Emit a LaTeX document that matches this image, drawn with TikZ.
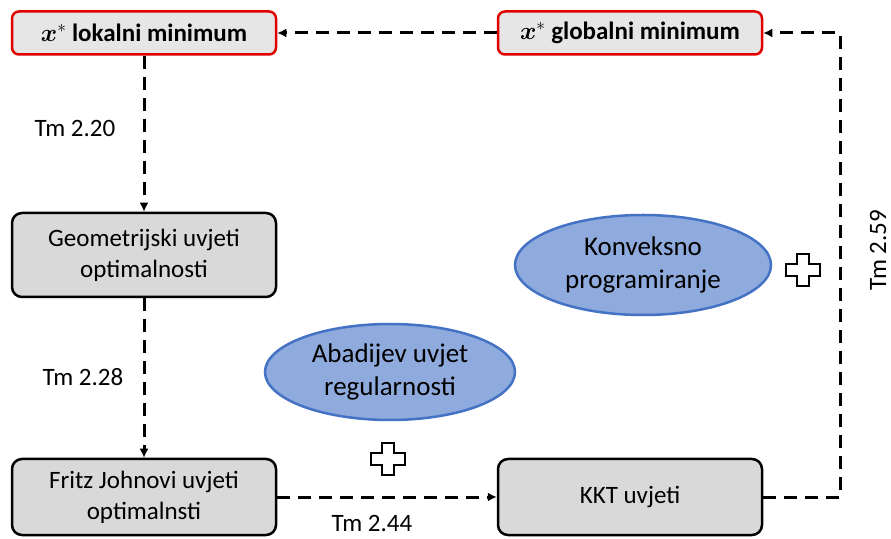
\documentclass[tikz,border=0pt]{standalone}
\usepackage{fontspec}
\setmainfont{Carlito}
\usepackage{amsmath}
\usetikzlibrary{shapes.geometric,arrows.meta}

\definecolor{boxgrey}{HTML}{D9D9D9}
\definecolor{topgrey}{HTML}{E7E6E6}
\definecolor{ellfill}{HTML}{8FAADC}
\definecolor{elldraw}{HTML}{4472C4}
\definecolor{topred}{HTML}{E00000}

\newcommand{\pluscross}[1]{\draw[line width=2pt, fill=white, shift={#1}]
  (-6,-16) -- (6,-16) -- (6,-6) -- (17,-6) -- (17,6) -- (6,6) -- (6,16)
  -- (-6,16) -- (-6,6) -- (-17,6) -- (-17,-6) -- (-6,-6) -- cycle;}

\begin{document}
\begin{tikzpicture}[x=1pt,y=1pt,
    cond/.style={draw=black, line width=2.5pt, rounded corners=10pt, fill=boxgrey,
      minimum width=264pt, align=center, font=\fontsize{25}{31}\selectfont},
    minbox/.style={draw=topred, line width=2.5pt, rounded corners=7pt, fill=topgrey,
      minimum width=264pt, minimum height=43pt, font=\fontsize{25}{28}\selectfont\bfseries},
    ell/.style={ellipse, draw=elldraw, line width=2.5pt, fill=ellfill, align=center,
      inner sep=0pt, font=\fontsize{27}{33}\selectfont},
    impl/.style={dash pattern=on 13pt off 8pt, line width=3pt,
      -{Latex[length=9pt,width=9pt]}},
    tm/.style={font=\fontsize{25}{28}\selectfont}]
  \useasboundingbox (0,0) rectangle (891,538);

  % boxes
  \node[minbox] (loc) at (144,505) {$\boldsymbol{x}^{*}$ lokalni minimum};
  \node[minbox] (glob) at (630,505) {$\boldsymbol{x}^{*}$ globalni minimum};
  \node[cond, minimum height=84pt] (geo) at (144,283) {Geometrijski uvjeti\\optimalnosti};
  \node[cond, minimum height=76pt] (fj) at (144,41) {Fritz Johnovi uvjeti\\optimalnsti};
  \node[cond, minimum height=76pt] (kkt) at (630,41) {KKT uvjeti};

  % extra conditions
  \node[ell, minimum width=256pt, minimum height=100pt] (konv) at (643,273) {Konveksno\\programiranje};
  \node[ell, minimum width=250pt, minimum height=96pt] (abad) at (390,166) {Abadijev uvjet\\regularnosti};
  \pluscross{(388,79)}
  \pluscross{(803,268)}

  % implications
  \coordinate (turn) at (840,505);
  \draw[impl] (loc) -- (geo);
  \draw[impl] (geo) -- (fj);
  \draw[impl] (fj) -- (kkt);
  \draw[impl] (kkt.east) -| (turn) -- (glob.east);
  \draw[impl] (glob) -- (loc);

  \node[tm] (t220) at (75,410) {Tm 2.20};
  \node[tm] (t228) at (83,161) {Tm 2.28};
  \node[tm] (t244) at (372,15) {Tm 2.44};
  \node[tm, rotate=90] (t259) at (878,288) {Tm 2.59};
\end{tikzpicture}
\end{document}
